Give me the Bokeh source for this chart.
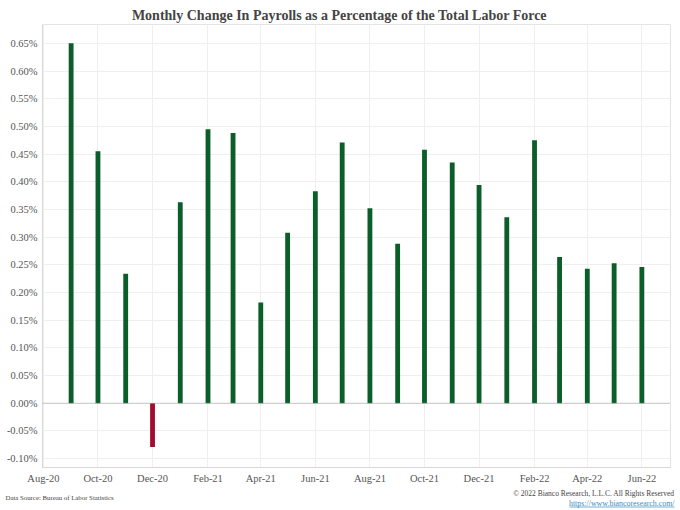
import pandas as pd
from datetime import datetime
from bokeh.plotting import figure
from bokeh.layouts import column
from bokeh.models import (FixedTicker, DatetimeTickFormatter, PrintfTickFormatter,
                          Span, Range1d, ColumnDataSource)
from bokeh.core.properties import value
from bokeh.embed import file_html
from bokeh.resources import INLINE

# ---- data ----
months = ["Sep-20", "Oct-20", "Nov-20", "Dec-20", "Jan-21", "Feb-21", "Mar-21",
          "Apr-21", "May-21", "Jun-21", "Jul-21", "Aug-21", "Sep-21", "Oct-21",
          "Nov-21", "Dec-21", "Jan-22", "Feb-22", "Mar-22", "Apr-22", "May-22",
          "Jun-22"]
pct_change = [0.650, 0.455, 0.234, -0.079, 0.363, 0.495, 0.488,
              0.182, 0.308, 0.383, 0.471, 0.352, 0.288, 0.458,
              0.435, 0.394, 0.336, 0.475, 0.264, 0.243, 0.253,
              0.246]
x_tick_labels = ["Aug-20", "Oct-20", "Dec-20", "Feb-21", "Apr-21", "Jun-21",
                 "Aug-21", "Oct-21", "Dec-21", "Feb-22", "Apr-22", "Jun-22"]
y_ticks = [-0.10, -0.05, 0.00, 0.05, 0.10, 0.15, 0.20, 0.25, 0.30, 0.35,
           0.40, 0.45, 0.50, 0.55, 0.60, 0.65]

title_text = "Monthly Change In Payrolls as a Percentage of the Total Labor Force"
source_text = "Data Source: Bureau of Labor Statistics"
copyright_text = "\u00a9 2022 Bianco Research, L.L.C. All Rights Reserved"
url_text = "https://www.biancoresearch.com/"

GREEN = "#0b5d2a"
RED = "#a10d2e"
FONT = "Liberation Serif"
W = 678


def blank_fig(h):
    f = figure(width=W, height=h, x_range=Range1d(0, W), y_range=Range1d(h, 0),
               output_backend="svg", toolbar_location=None,
               x_axis_location=None, y_axis_location=None,
               min_border=0, frame_align=False)
    f.outline_line_color = None
    f.xgrid.visible = False
    f.ygrid.visible = False
    f.background_fill_color = "white"
    f.border_fill_color = "white"
    return f


# ---- header ----
header = blank_fig(24)
header.text(x=[339], y=[15], text=[title_text], text_align="center",
            text_baseline="middle", text_font=value(FONT),
            text_font_style="bold", text_font_size="14px",
            text_color="#444444")

# ---- main chart ----
dates = pd.to_datetime(months, format="%b-%y")
colors = [GREEN if v >= 0 else RED for v in pct_change]
src = ColumnDataSource(dict(x=dates, top=pct_change, color=colors))

tick_ms = [pd.to_datetime(t, format="%b-%y").value / 1e6 for t in x_tick_labels]

p = figure(width=W, height=463, x_axis_type="datetime",
           x_range=Range1d(datetime(2020, 7, 31), datetime(2022, 7, 3)),
           y_range=Range1d(-0.116, 0.684),
           output_backend="svg", toolbar_location=None,
           min_border_left=42, min_border_right=8,
           min_border_top=0, min_border_bottom=20, frame_align=False)
p.background_fill_color = "white"
p.border_fill_color = "white"
p.outline_line_color = "#e4e4e4"

day_ms = 86400000
p.vbar(x="x", top="top", bottom=0, width=5.4 * day_ms, color="color",
       line_color=None, source=src)

zero = Span(location=0, dimension="width", line_color="#9a9a9a",
            line_dash="1 1", line_width=1)
p.add_layout(zero)

p.xaxis.ticker = FixedTicker(ticks=tick_ms)
fmt = "%b-%y"
p.xaxis.formatter = DatetimeTickFormatter(days=fmt, months=fmt, years=fmt,
                                          hours=fmt, minutes=fmt)
p.yaxis.ticker = FixedTicker(ticks=y_ticks)
p.yaxis.formatter = PrintfTickFormatter(format="%.2f%%")

for ax in (p.xaxis, p.yaxis):
    ax.major_label_text_font = FONT
    ax.major_label_text_font_size = "10.5px"
    ax.major_label_text_color = "#555555"
    ax.axis_line_color = "#d8d8d8"
    ax.major_tick_line_color = None
    ax.minor_tick_line_color = None
    ax.major_tick_out = 0
    ax.major_tick_in = 0
    ax.minor_tick_out = 0
    ax.minor_tick_in = 0
p.xaxis.major_label_standoff = 5
p.yaxis.major_label_standoff = 5

p.xgrid.grid_line_color = "#efefef"
p.ygrid.grid_line_color = "#efefef"
p.xgrid.ticker = FixedTicker(ticks=tick_ms)

# ---- footer ----
footer = blank_fig(21)
footer.text(x=[5], y=[10], text=[source_text], text_align="left",
            text_baseline="middle", text_font=value(FONT),
            text_font_size="6.8px", text_color="#444444")
footer.text(x=[674], y=[6], text=[copyright_text], text_align="right",
            text_baseline="middle", text_font=value(FONT),
            text_font_size="7.5px", text_color="#444444")
footer.text(x=[674], y=[16], text=[url_text], text_align="right",
            text_baseline="middle", text_font=value(FONT),
            text_font_size="7.9px", text_color="#3a8ec4")
# underline of the link
footer.segment(x0=[569], x1=[674], y0=[19.5], y1=[19.5],
               line_color="#3a8ec4", line_width=0.7)

layout = column(header, p, footer, spacing=0)
open("out.html", "w").write(file_html(layout, INLINE))
